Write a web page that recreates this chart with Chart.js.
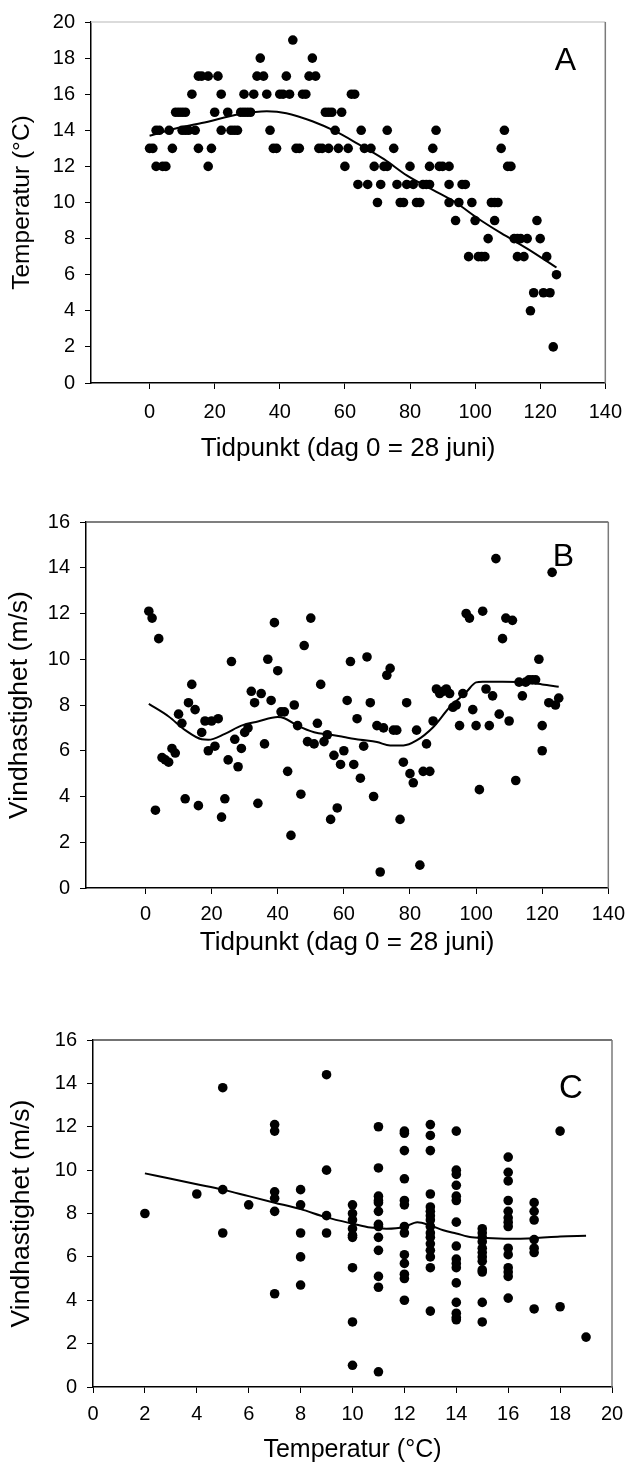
<!DOCTYPE html>
<html lang="sv">
<head>
<meta charset="UTF-8">
<title>Temperatur och vindhastighet</title>
<script src="https://cdn.jsdelivr.net/npm/chart.js@4.4.0"></script>
<style>
  body { margin: 0; background: #fff; width: 633px; }
  canvas { display: block; }
</style>
</head>
<body>
<canvas id="chartA" width="633" height="470"></canvas>
<canvas id="chartB" width="633" height="492"></canvas>
<canvas id="chartC" width="633" height="508"></canvas>
<script>
// A: temperatur per dag
const dagA = [0,1,2,2,3,4,5,6,7,8, 9,10,10,11,11,12,13,14,15,15, 16,18,18,19,20,21,22,22,24,25,
  26,27,28,29,29,30,31,32,33,34, 35,36,37,38,39,40,41,42,43,44, 45,46,47,48,49,50,51,52,53,54,
  55,55,56,57,58,59,60,61,62,63, 64,65,66,67,68,69,70,71,72,73, 73,75,76,77,78,79,80,81,82,83,
  84,85,86,86,87,88,89,90,92,92, 92,94,95,96,97,98,99,100,101,102, 103,104,105,106,106,107,108,109,110,111,
  112,113,113,114,115,116,117,118,119,120, 121,122,123,124,125];
const tempA = [13,13,12,14,14,12,12,14,13,15, 15,14,15,14,15,14,16,14,13,17, 17,17,12,13,15,17,16,14,15,14,
  14,14,15,15,16,15,15,16,17,18, 17,16,14,13,13,16,16,17,16,19, 13,13,16,16,17,18,17,13,13,15,
  15,13,15,14,13,15,12,13,16,16, 11,14,13,11,13,12,10,11,12,12, 14,13,11,10,10,11,12,11,10,10,
  11,11,11,12,13,14,12,12,12,11, 10,9,10,11,11,7,10,9,7,7, 7,8,10,10,9,10,13,14,12,12,
  8,8,7,8,7,8,4,5,9,8, 5,7,5,2,6];
const trendDagA = [0,8,16,28,36,42,50,57,64,72,79,87,94,101,108,116,125];
const trendTempA = [13.7,14.1,14.4,14.9,15.05,14.95,14.5,13.95,13.25,12.4,11.5,10.7,10.0,9.1,8.3,7.45,6.4];

// B: vindhastighet per dag
const dagB = [1,2,3,4,5,6,7,8,9,10, 11,12,13,14,15,16,17,18,19,20, 21,22,23,24,25,26,27,28,29,30,
  31,32,33,34,35,36,37,38,39,40, 41,42,43,44,45,46,47,48,49,50, 51,52,53,54,55,56,57,58,59,60,
  61,62,63,64,65,66,67,68,69,70, 71,72,73,74,75,76,77,78,79,80, 81,82,83,84,85,86,87,88,89,90,
  91,92,93,94,95,96,97,98,99,100, 101,102,103,104,105,106,107,108,109,110,
  111,112,113,114,115,116,117,118,119,120, 120,122,123,124,125];
const vindB = [12.1,11.8,3.4,10.9,5.7,5.6,5.5,6.1,5.9,7.6, 7.2,3.9,8.1,8.9,7.8,3.6,6.8,7.3,6.0,7.3,
  6.2,7.4,3.1,3.9,5.6,9.9,6.5,5.3,6.1,6.8, 7.0,8.6,8.1,3.7,8.5,6.3,10.0,8.2,11.6,9.5,
  7.7,7.7,5.1,2.3,8.0,7.1,4.1,10.6,6.4,11.8, 6.3,7.2,8.9,6.4,6.7,3.0,5.8,3.5,5.4,6.0,
  8.2,9.9,5.4,7.4,4.8,6.2,10.1,8.1,4.0,7.1, 0.7,7.0,9.3,9.6,6.9,6.9,3.0,5.5,8.1,5.0,
  4.6,6.9,1.0,5.1,6.3,5.1,7.3,8.7,8.5,8.6, 8.7,8.5,7.9,8.0,7.1,8.5,12.0,11.8,7.8,7.1,
  4.3,12.1,8.7,7.1,8.4,14.4,7.6,10.9,11.8,7.3, 11.7,4.7,9.0,8.4,9.0,9.1,9.1,9.1,10.0,6.0,
  7.1,8.1,13.8,8.0,8.3];
const trendDagB = [1,7,12,17,19,24,29,34,40,42,46,51,56,60,65,70,74,78,82,87,92,97,100,102,108,114,120,125];
const trendVindB = [8.05,7.5,6.9,6.5,6.48,6.74,7.1,7.28,7.47,7.42,7.1,6.81,6.7,6.6,6.48,6.38,6.23,6.23,6.45,7.03,7.9,8.56,8.99,9.02,9.02,9.0,8.9,8.8];

// C: vindhastighet mot temperatur
const tempC = [2, 4, 5,5,5, 6, 7,7,7,7,7,7, 8,8,8,8,8, 9,9,9,9,
  10,10,10,10,10,10,10,10,10,
  11,11,11,11,11,11,11,11,11,11,11,11,11,
  12,12,12,12,12,12,12,12,12,12,12,12,12,
  13,13,13,13,13,13,13,13,13,13,13,13,13,13,13,13,
  14,14,14,14,14,14,14,14,14,14,14,14,14,14,14,14,
  15,15,15,15,15,15,15,15,15,15,15,15,
  16,16,16,16,16,16,16,16,16,16,16,16,16,16,
  17,17,17,17,17,17,17, 18,18, 19];
const vindC = [8.0, 8.9, 13.8,9.1,7.1, 8.4, 12.1,11.8,9.0,8.7,8.1,4.3, 9.1,8.4,7.1,6.0,4.7, 14.4,10.0,7.9,7.1,
  8.4,8.0,7.7,7.3,7.0,6.9,5.5,3.0,1.0,
  12.0,10.1,8.8,8.6,8.5,8.1,7.5,7.4,6.9,6.3,5.1,4.6,0.7,
  11.8,11.7,10.9,9.6,8.6,8.4,7.4,7.1,6.1,5.7,5.2,5.0,4.0,
  12.1,11.6,10.9,8.9,8.3,8.1,7.9,7.7,7.4,7.1,6.9,6.6,6.3,6.0,5.5,3.5,
  11.8,10.0,9.8,9.3,8.8,8.6,7.6,6.5,5.9,5.7,5.5,4.8,3.9,3.4,3.2,3.1,
  7.3,7.1,6.9,6.7,6.4,6.2,6.0,5.8,5.4,5.3,3.9,3.0,
  10.6,9.9,9.5,8.6,8.1,7.8,7.6,7.4,6.4,6.1,5.5,5.3,5.1,4.1,
  8.5,8.1,7.7,6.8,6.4,6.2,3.6, 11.8,3.7, 2.3];
const trendTempC = [2,3,4,5,6,7,8,9,10,10.7,11.3,12,12.5,13,13.5,14,14.6,15.4,16,17,18,19];
const trendVindC = [9.85,9.6,9.35,9.1,8.8,8.5,8.2,7.82,7.53,7.35,7.3,7.38,7.6,7.45,7.23,7.08,6.9,6.86,6.83,6.86,6.94,6.97];

const ticksTid = [0,20,40,60,80,100,120,140];
const ticksTemp = [0,2,4,6,8,10,12,14,16,18,20];

const FONT = '"Liberation Sans", Arial, sans-serif';
Chart.defaults.font.family = FONT;
Chart.defaults.color = '#000';

const pairs = (xs, ys) => xs.map((x, i) => ({ x: x, y: ys[i] }));

// top/right frame + panel letter
const ramPlugin = {
  id: 'ram',
  beforeDatasetsDraw(chart, args, o) {
    const { ctx, chartArea: a } = chart;
    ctx.save();
    ctx.lineWidth = 1.5;
    ctx.strokeStyle = o.topColor;
    ctx.beginPath(); ctx.moveTo(a.left, a.top); ctx.lineTo(a.right, a.top); ctx.stroke();
    ctx.strokeStyle = o.rightColor;
    ctx.beginPath(); ctx.moveTo(a.right, a.top); ctx.lineTo(a.right, a.bottom); ctx.stroke();
    ctx.fillStyle = '#000';
    ctx.font = o.size + 'px ' + FONT;
    ctx.textAlign = 'center';
    ctx.textBaseline = 'middle';
    ctx.fillText(o.letter, a.right - o.dx, a.top + o.dy);
    ctx.restore();
  }
};

function panel(id, p) {
  new Chart(document.getElementById(id), {
    type: 'scatter',
    data: {
      datasets: [
        { data: p.points, backgroundColor: '#000', borderWidth: 0, pointRadius: 4.8, pointHoverRadius: 4.8 },
        { data: p.trend, showLine: true, borderColor: '#000', borderWidth: 2, pointRadius: 0,
          cubicInterpolationMode: 'monotone', fill: false }
      ]
    },
    options: {
      responsive: false,
      animation: false,
      layout: { padding: p.pad },
      plugins: { legend: { display: false }, tooltip: { enabled: false }, ram: p.ram },
      scales: {
        x: {
          type: 'linear', min: p.xMin, max: p.xMax,
          afterBuildTicks: s => { s.ticks = p.xTicks.map(v => ({ value: v })); },
          afterFit: s => { s.height = p.xH; },
          ticks: { font: { size: 20 }, padding: p.xPad, maxRotation: 0, autoSkip: false },
          grid: { drawOnChartArea: false, tickLength: 6, tickColor: '#000' },
          border: { color: '#000', width: 1.5 },
          title: { display: true, text: p.xTitle, font: { size: p.xTitleSize } }
        },
        y: {
          min: 0, max: p.yMax,
          afterFit: s => { s.width = p.yW; },
          ticks: { stepSize: 2, font: { size: 20 }, padding: 10 },
          grid: { drawOnChartArea: false, tickLength: 6, tickColor: '#000' },
          border: { color: '#000', width: 1.5 },
          title: { display: true, text: p.yTitle, font: { size: p.yTitleSize } }
        }
      }
    },
    plugins: [ramPlugin]
  });
}

panel('chartA', {
  points: pairs(dagA, tempA), trend: pairs(trendDagA, trendTempA),
  xMin: -18, xMax: 140, xTicks: ticksTid, yMax: 20,
  xTitle: 'Tidpunkt (dag 0 = 28 juni)', yTitle: 'Temperatur (°C)',
  xTitleSize: 26, yTitleSize: 24.5,
  pad: { left: 4, top: 18, right: 21, bottom: 2 }, xH: 85, yW: 87, xPad: 11,
  ram: { topColor: '#cfcfcf', rightColor: '#7a7a7a', letter: 'A', size: 32, dx: 40, dy: 39 }
});

panel('chartB', {
  points: pairs(dagB, vindB), trend: pairs(trendDagB, trendVindB),
  xMin: -18, xMax: 140, xTicks: ticksTid, yMax: 16,
  xTitle: 'Tidpunkt (dag 0 = 28 juni)', yTitle: 'Vindhastighet (m/s)',
  xTitleSize: 26, yTitleSize: 26.5,
  pad: { left: 0, top: 52, right: 21, bottom: 0 }, xH: 74, yW: 86, xPad: 8,
  ram: { topColor: '#555', rightColor: '#7a7a7a', letter: 'B', size: 32, dx: 45, dy: 35 }
});

panel('chartC', {
  points: pairs(tempC, vindC), trend: pairs(trendTempC, trendVindC),
  xMin: 0, xMax: 20, xTicks: ticksTemp, yMax: 16,
  xTitle: 'Temperatur (°C)', yTitle: 'Vindhastighet (m/s)',
  xTitleSize: 25, yTitleSize: 26.5,
  pad: { left: 2, top: 78, right: 21, bottom: 1 }, xH: 82, yW: 91, xPad: 9,
  ram: { topColor: '#444', rightColor: '#7a7a7a', letter: 'C', size: 33, dx: 41, dy: 49 }
});
</script>
</body>
</html>
